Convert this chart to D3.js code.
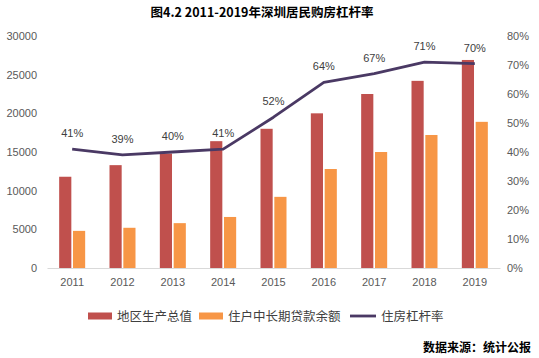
<!DOCTYPE html>
<html><head><meta charset="utf-8">
<script src="https://cdn.jsdelivr.net/npm/d3@7/dist/d3.min.js"></script>
<style>
body{margin:0;background:#fff;}
text{font-family:"Liberation Sans","Noto Sans CJK SC",sans-serif;}
</style></head>
<body><svg id="c" width="539" height="358"></svg>
<script>
const years = ["2011","2012","2013","2014","2015","2016","2017","2018","2019"];
const gdp = [11800, 13300, 14800, 16400, 18000, 20000, 22500, 24200, 26900];
const loans = [4800, 5200, 5800, 6600, 9200, 12800, 15000, 17200, 18900];
const leverage = [0.41, 0.39, 0.40, 0.41, 0.52, 0.64, 0.67, 0.71, 0.705];
const leverageLabels = ["41%","39%","40%","41%","52%","64%","67%","71%","70%"];
const leftTicks = [0,5000,10000,15000,20000,25000,30000];
const rightTicks = [0,0.1,0.2,0.3,0.4,0.5,0.6,0.7,0.8];
const seriesNames = ["地区生产总值","住户中长期贷款余额","住房杠杆率"];
const colors = {gdp:"#c0504d", loan:"#f79646", line:"#4a3964"};

const svg = d3.select("#c");
const x = d3.scaleBand().domain(years).range([47,500]);
const x1 = d3.scaleBand().domain(["gdp","loan"]).range([-13,13]).paddingInner(0.12);
const y = d3.scaleLinear().domain([0,30000]).range([268,36]);
const yr = d3.scaleLinear().domain([0,0.8]).range([268,36]);
const cx = d => x(d) + x.bandwidth()/2;

// title
svg.append("text").attr("x",262).attr("y",17).attr("text-anchor","middle")
  .attr("font-size",12.5).attr("font-weight","bold").attr("fill","#000")
  .style("font-family","'Noto Sans CJK SC',sans-serif")
  .text("图4.2 2011-2019年深圳居民购房杠杆率");

// left axis
const la = svg.append("g").attr("transform","translate(40,0)")
  .call(d3.axisLeft(y).tickValues(leftTicks).tickSize(0).tickPadding(3).tickFormat(d3.format("d")));
la.select(".domain").remove();
la.selectAll("text").attr("font-size",11).attr("fill","#595959").style("font-family","'Liberation Sans',sans-serif");

// right axis
const ra = svg.append("g").attr("transform","translate(504,0)")
  .call(d3.axisRight(yr).tickValues(rightTicks).tickSize(0).tickPadding(3).tickFormat(d3.format(".0%")));
ra.select(".domain").remove();
ra.selectAll("text").attr("font-size",11).attr("fill","#595959").style("font-family","'Liberation Sans',sans-serif");

// bars
const g = svg.append("g");
g.selectAll(".gdp").data(years).join("rect")
  .attr("x",(d)=>cx(d)+x1("gdp")).attr("width",x1.bandwidth())
  .attr("y",(d,i)=>y(gdp[i])).attr("height",(d,i)=>y(0)-y(gdp[i]))
  .attr("fill",colors.gdp);
g.selectAll(".loan").data(years).join("rect")
  .attr("x",(d)=>cx(d)+x1("loan")).attr("width",x1.bandwidth())
  .attr("y",(d,i)=>y(loans[i])).attr("height",(d,i)=>y(0)-y(loans[i]))
  .attr("fill",colors.loan);

// bottom axis
const ba = svg.append("g").attr("transform","translate(0,268)")
  .call(d3.axisBottom(x).tickSize(0).tickPadding(10));
ba.select(".domain").attr("stroke","#d9d9d9").attr("stroke-width",1.2);
ba.selectAll("text").attr("font-size",11).attr("fill","#595959").style("font-family","'Liberation Sans',sans-serif");

// line
const line = d3.line().x((d,i)=>cx(years[i])).y(d=>yr(d));
svg.append("path").datum(leverage).attr("d",line).attr("fill","none")
  .attr("stroke",colors.line).attr("stroke-width",2.8).attr("stroke-linejoin","round");

svg.selectAll(".lbl").data(leverage).join("text")
  .attr("x",(d,i)=>cx(years[i])).attr("y",d=>yr(d)-12)
  .attr("text-anchor","middle").attr("font-size",11).attr("fill","#404040")
  .style("font-family","'Liberation Sans',sans-serif")
  .text((d,i)=>leverageLabels[i]);

// legend
const lg = svg.append("g").attr("transform","translate(0,316)");
const items = [
  {x:88, w:24, type:"rect", color:colors.gdp, name:seriesNames[0]},
  {x:199, w:24, type:"rect", color:colors.loan, name:seriesNames[1]},
  {x:350, w:26, type:"line", color:colors.line, name:seriesNames[2]}
];
items.forEach(it=>{
  if(it.type==="rect") lg.append("rect").attr("x",it.x).attr("y",-3.5).attr("width",it.w).attr("height",7).attr("fill",it.color);
  else lg.append("line").attr("x1",it.x).attr("x2",it.x+it.w).attr("y1",0).attr("y2",0).attr("stroke",it.color).attr("stroke-width",2.8);
  lg.append("text").attr("x",it.x+it.w+5).attr("y",4.5).attr("font-size",12.5).attr("fill","#404040")
    .style("font-family","'Noto Sans CJK SC',sans-serif").text(it.name);
});

// source
svg.append("text").attr("x",531).attr("y",352).attr("text-anchor","end")
  .attr("font-size",12).attr("font-weight","bold").attr("fill","#000")
  .style("font-family","'Noto Sans CJK SC',sans-serif").text("数据来源：统计公报");
</script></body></html>
